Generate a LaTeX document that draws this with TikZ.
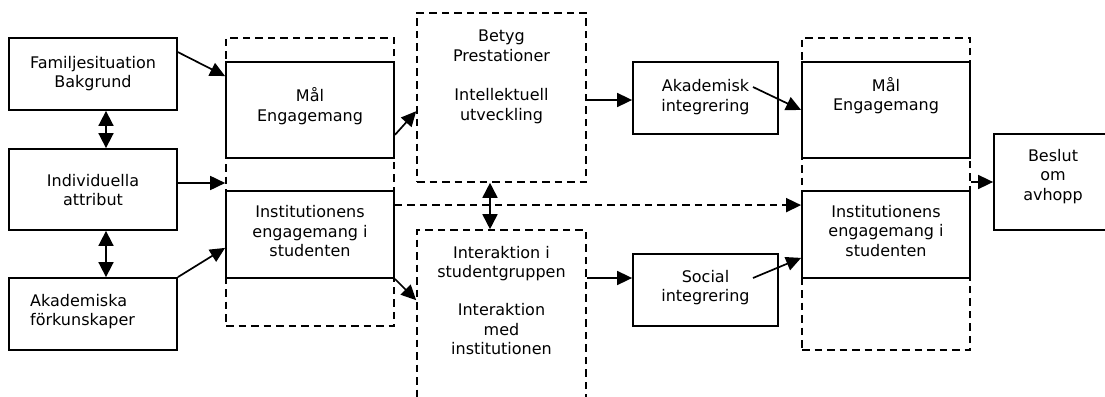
\documentclass[tikz,border=0pt]{standalone}
\usepackage{fontspec}
\setmainfont{DejaVu Sans}
\usetikzlibrary{arrows.meta,calc}
\begin{document}
\begin{tikzpicture}[x=1pt,y=-1pt,
  box/.style={draw, line width=1.8pt, inner sep=0pt},
  dbox/.style={draw, line width=1.6pt, dash pattern=on 7.5pt off 5pt, inner sep=0pt},
  txt/.style={align=center, font=\fontsize{16}{19.5}\selectfont, inner sep=0pt,
    execute at begin node={\strut}, execute at end node={\strut}},
  arr/.style={line width=1.7pt, -{Triangle[length=15pt,width=14pt]}},
  darr/.style={line width=1.7pt, {Triangle[length=15pt,width=15pt]}-{Triangle[length=15pt,width=15pt]}},
  dline/.style={dash pattern=on 7.5pt off 5pt}
]
\clip (0,0) rectangle (1105,396);
\fill[white] (0,0) rectangle (1105,396);

% dashed containers
\node[dbox, minimum width=168pt, minimum height=288pt] (ldash) at (310,182) {};
\node[dbox, minimum width=169pt, minimum height=169pt] (betyg) at (501.5,97.5) {};
\node[dbox, minimum width=169pt, minimum height=190pt] (inter) at (501.5,325) {};
\node[dbox, minimum width=168pt, minimum height=312pt] (rdash) at (886,194) {};

% solid boxes
\node[box, minimum width=168pt, minimum height=72pt] (fam) at (93,74) {};
\node[box, minimum width=168pt, minimum height=81pt] (ind) at (93,189.5) {};
\node[box, minimum width=168pt, minimum height=72pt] (akad) at (93,314) {};
\node[box, minimum width=168pt, minimum height=96pt] (mal1) at (310,110) {};
\node[box, minimum width=168pt, minimum height=87pt] (inst1) at (310,234.5) {};
\node[box, minimum width=145pt, minimum height=72pt] (akadint) at (705.5,98) {};
\node[box, minimum width=145pt, minimum height=72pt] (social) at (705.5,290) {};
\node[box, minimum width=168pt, minimum height=96pt] (mal2) at (886,110) {};
\node[box, minimum width=168pt, minimum height=87pt] (inst2) at (886,234.5) {};
\node[box, minimum width=121pt, minimum height=96pt] (beslut) at (1054.5,182) {};

% texts
\node[txt] (famt) at (93,75) {Familjesituation\\Bakgrund};
\node[txt] (indt) at (93,193) {Individuella\\attribut};
\node[txt, align=left, anchor=west] (akadt) at (30,313) {Akademiska\\förkunskaper};
\node[txt] (mal1t) at (310,107.5) {Mål\\Engagemang};
\node[txt] (inst1t) at (310,234) {Institutionens\\engagemang i\\studenten};
\node[txt] (betygt) at (501.5,78) {Betyg\\Prestationer\\[20pt]Intellektuell\\utveckling};
\node[txt] (intert) at (501.5,303.5) {Interaktion i\\studentgruppen\\[18.5pt]Interaktion\\med\\institutionen};
\node[txt] (akadintt) at (705.5,98.5) {Akademisk\\integrering};
\node[txt] (socialt) at (705.5,289) {Social\\integrering};
\node[txt] (mal2t) at (886,97) {Mål\\Engagemang};
\node[txt] (inst2t) at (886,233.5) {Institutionens\\engagemang i\\studenten};
\node[txt] (beslutt) at (1053,177.5) {Beslut\\om\\avhopp};

% connectors
\draw[arr] ($(fam.north east)+(0,15)$) -- ($(mal1.north west)+(0,15)$);
\coordinate (c1) at ($(ind.east)+(0,-6.5)$);
\draw[arr] (c1) -- (c1 -| ldash.west);
\draw[arr] (akad.north east) -- ($(inst1.south west)+(0,-31)$);
\draw[darr] ($(fam.south)+(13,0)$) -- ($(ind.north)+(13,0)$);
\draw[darr] ($(ind.south)+(13,0)$) -- ($(akad.north)+(13,0)$);
\draw[arr] ($(mal1.south east)+(0,-24)$) -- ($(betyg.north west)+(0,99)$);
\draw[arr] (inst1.south east) -- ($(inter.north west)+(0,71)$);
\coordinate (c2) at ($(inst2.north west)+(0,15)$);
\draw[arr, dline] (ldash.east |- c2) -- (c2);
\draw[darr] ($(betyg.south)+(-11.5,0)$) -- ($(inter.north)+(-11.5,0)$);
\coordinate (c3) at ($(akadint.west)+(0,2)$);
\draw[arr] (betyg.east |- c3) -- (c3);
\coordinate (c4) at ($(social.west)+(0,-12)$);
\draw[arr] (inter.east |- c4) -- (c4);
\coordinate (s1) at (753,87);
\draw[arr] (s1) -- (mal2.west);
\coordinate (s2) at (753,278);
\draw[arr] (s2) -- ($(inst2.south west)+(0,-21)$);
\draw[arr] (rdash.east |- beslut.west) -- (beslut.west);
\end{tikzpicture}
\end{document}
